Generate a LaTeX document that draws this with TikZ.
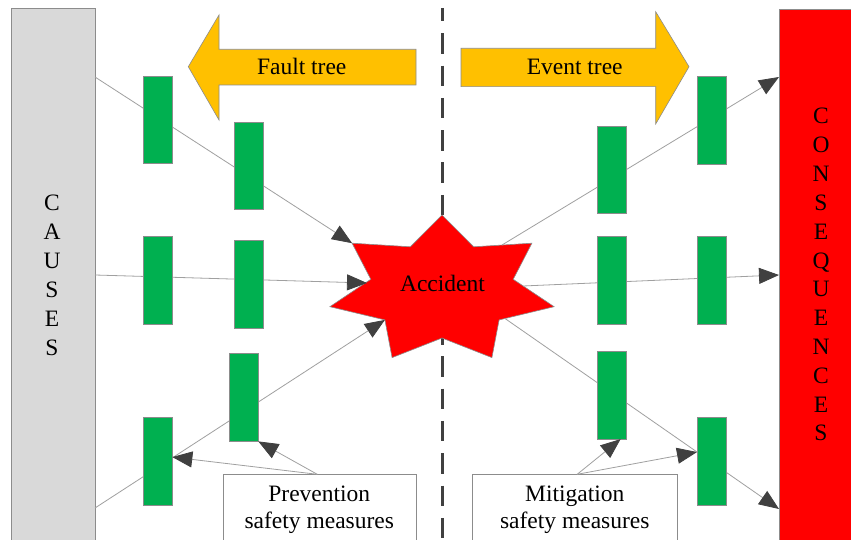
\documentclass[tikz,border=0pt]{standalone}
\usepackage{fontspec}
\setmainfont{Liberation Serif}
\usetikzlibrary{arrows.meta}
\definecolor{causegray}{HTML}{D9D9D9}
\definecolor{edgegray}{HTML}{8C8C8C}
\definecolor{barriergreen}{HTML}{00B050}
\definecolor{treeyellow}{HTML}{FFC000}
\definecolor{conred}{HTML}{FF0000}
\definecolor{linegray}{HTML}{A0A0A0}
\definecolor{arrowdark}{HTML}{404040}
\begin{document}
\begin{tikzpicture}[x=1pt,y=-1pt,
  barrier/.style={draw=edgegray, fill=barriergreen, line width=0.6pt,
    minimum width=28.7pt, minimum height=87.5pt, inner sep=0pt, anchor=north west},
  link/.style={draw=linegray, line width=0.8pt},
  linkarrow/.style={link, -{Triangle[length=20pt,width=16pt,color=arrowdark]}},
  lbl/.style={font=\fontsize{23.5}{28.5}\selectfont, inner sep=0pt, text=black},
  bigbox/.style={draw=edgegray, line width=0.8pt, inner sep=0pt, anchor=north west},
  treearrow/.style={draw=edgegray, fill=treeyellow, line width=0.6pt},
  labelbox/.style={draw=edgegray, fill=white, line width=0.8pt, inner sep=0pt, anchor=north west},
]
\clip (0,0) rectangle (851,540);
\fill[white] (0,0) rectangle (851,540);

% side boxes
\node[bigbox, fill=causegray, minimum width=84pt, minimum height=560pt] (causes) at (11,8) {};
\node[bigbox, fill=conred, minimum width=90pt, minimum height=560pt] (conseq) at (779,9) {};
\foreach \l [count=\i] in {C,A,U,S,E,S}
  \node[lbl, anchor=base] (cl\i) at (52, {210.5+29*(\i-1)}) {\l};
\foreach \l [count=\i] in {C,O,N,S,E,Q,U,E,N,C,E,S}
  \node[lbl, anchor=base] (ql\i) at (821, {124+28.8*(\i-1)}) {\l};

% dashed divider
\coordinate (dtop) at (442.3,8);
\coordinate (dbot) at (442.3,545);
\draw[arrowdark, line width=3pt, dash pattern=on 20.5pt off 11.8pt, dash phase=7pt] (dtop) -- (dbot);

% star (accident)
\coordinate (s0) at (442,215);
\coordinate (i0) at (473.7,246.8);
\coordinate (s1) at (531.9,243.2);
\coordinate (i1) at (513.2,279.3);
\coordinate (s2) at (554.1,306.7);
\coordinate (i2) at (499.1,319.9);
\coordinate (s3) at (491.9,357.6);
\coordinate (i3) at (442,338);
\coordinate (s4) at (392.1,357.6);
\coordinate (i4) at (384.9,319.9);
\coordinate (s5) at (329.9,306.7);
\coordinate (i5) at (370.8,279.3);
\coordinate (s6) at (352.1,243.2);
\coordinate (i6) at (410.3,246.8);
\draw[draw=edgegray, fill=conred, line width=0.6pt]
  (s0) -- (i0) -- (s1) -- (i1) -- (s2) -- (i2) -- (s3) -- (i3) -- (s4) -- (i4) -- (s5) -- (i5) -- (s6) -- (i6) -- cycle;
\node[lbl, anchor=base] (accident) at (442.5,291.7) {Accident};

% main connectors
\coordinate (c1) at (95,77);
\coordinate (c2) at (95,275);
\coordinate (c3) at (95,508);
\coordinate (a2) at (367,283);
\coordinate (k1) at (779,77);
\coordinate (k2) at (779,275);
\coordinate (k3) at (779,509);
\coordinate (e1) at (502,245);
\coordinate (e2) at (523,286);
\coordinate (e3) at (505,318.5);
\draw[linkarrow] (c1) -- (s6);
\draw[linkarrow] (c2) -- (a2);
\draw[linkarrow] (c3) -- (i4);
\draw[linkarrow] (e1) -- (k1);
\draw[linkarrow] (e2) -- (k2);
\draw[linkarrow] (e3) -- (k3);

% barriers
\node[barrier] (g1) at (143,76) {};
\node[barrier] (g2) at (234,122) {};
\node[barrier] (g3) at (143,236) {};
\node[barrier] (g4) at (234,240) {};
\node[barrier] (g5) at (229,353.3) {};
\node[barrier] (g6) at (143,417) {};
\node[barrier] (g7) at (597.3,125.7) {};
\node[barrier] (g8) at (697,76.3) {};
\node[barrier] (g9) at (597.3,236) {};
\node[barrier] (g10) at (697,236) {};
\node[barrier] (g11) at (597.3,351) {};
\node[barrier] (g12) at (697,417) {};

% tree arrows
\draw[treearrow] (416,49.3) -- (219,49.3) -- (219,15) -- (188.3,66.7) -- (219,120) -- (219,85) -- (416,85) -- cycle;
\node[lbl, anchor=base] (fault) at (301.7,74.5) {Fault tree};
\draw[treearrow] (461,48.3) -- (655.7,48.3) -- (655.7,11.7) -- (689,66.7) -- (655.7,124) -- (655.7,86.7) -- (461,86.7) -- cycle;
\node[lbl, anchor=base] (event) at (574.7,74.5) {Event tree};

% safety measure boxes
\node[labelbox, minimum width=193.3pt, minimum height=80pt] (prev) at (222.7,474.3) {};
\node[lbl, anchor=base] (prevt1) at (319.3,501) {Prevention};
\node[lbl, anchor=base] (prevt2) at (319.3,528.5) {safety measures};
\node[labelbox, minimum width=205pt, minimum height=80pt] (mit) at (472.3,474.3) {};
\node[lbl, anchor=base] (mitt1) at (574.8,501) {Mitigation};
\node[lbl, anchor=base] (mitt2) at (574.8,528.5) {safety measures};

% measure connectors
\draw[linkarrow] ([xshift=-2.5pt]prev.north) -- ([yshift=4pt]g6.east);
\draw[linkarrow] ([xshift=-2.5pt]prev.north) -- (g5.south east);
\draw[linkarrow] ([xshift=2pt]mit.north) -- ([xshift=-6pt]g11.south east);
\draw[linkarrow] ([xshift=2pt]mit.north) -- ([yshift=9pt]g12.west);
\end{tikzpicture}
\end{document}
